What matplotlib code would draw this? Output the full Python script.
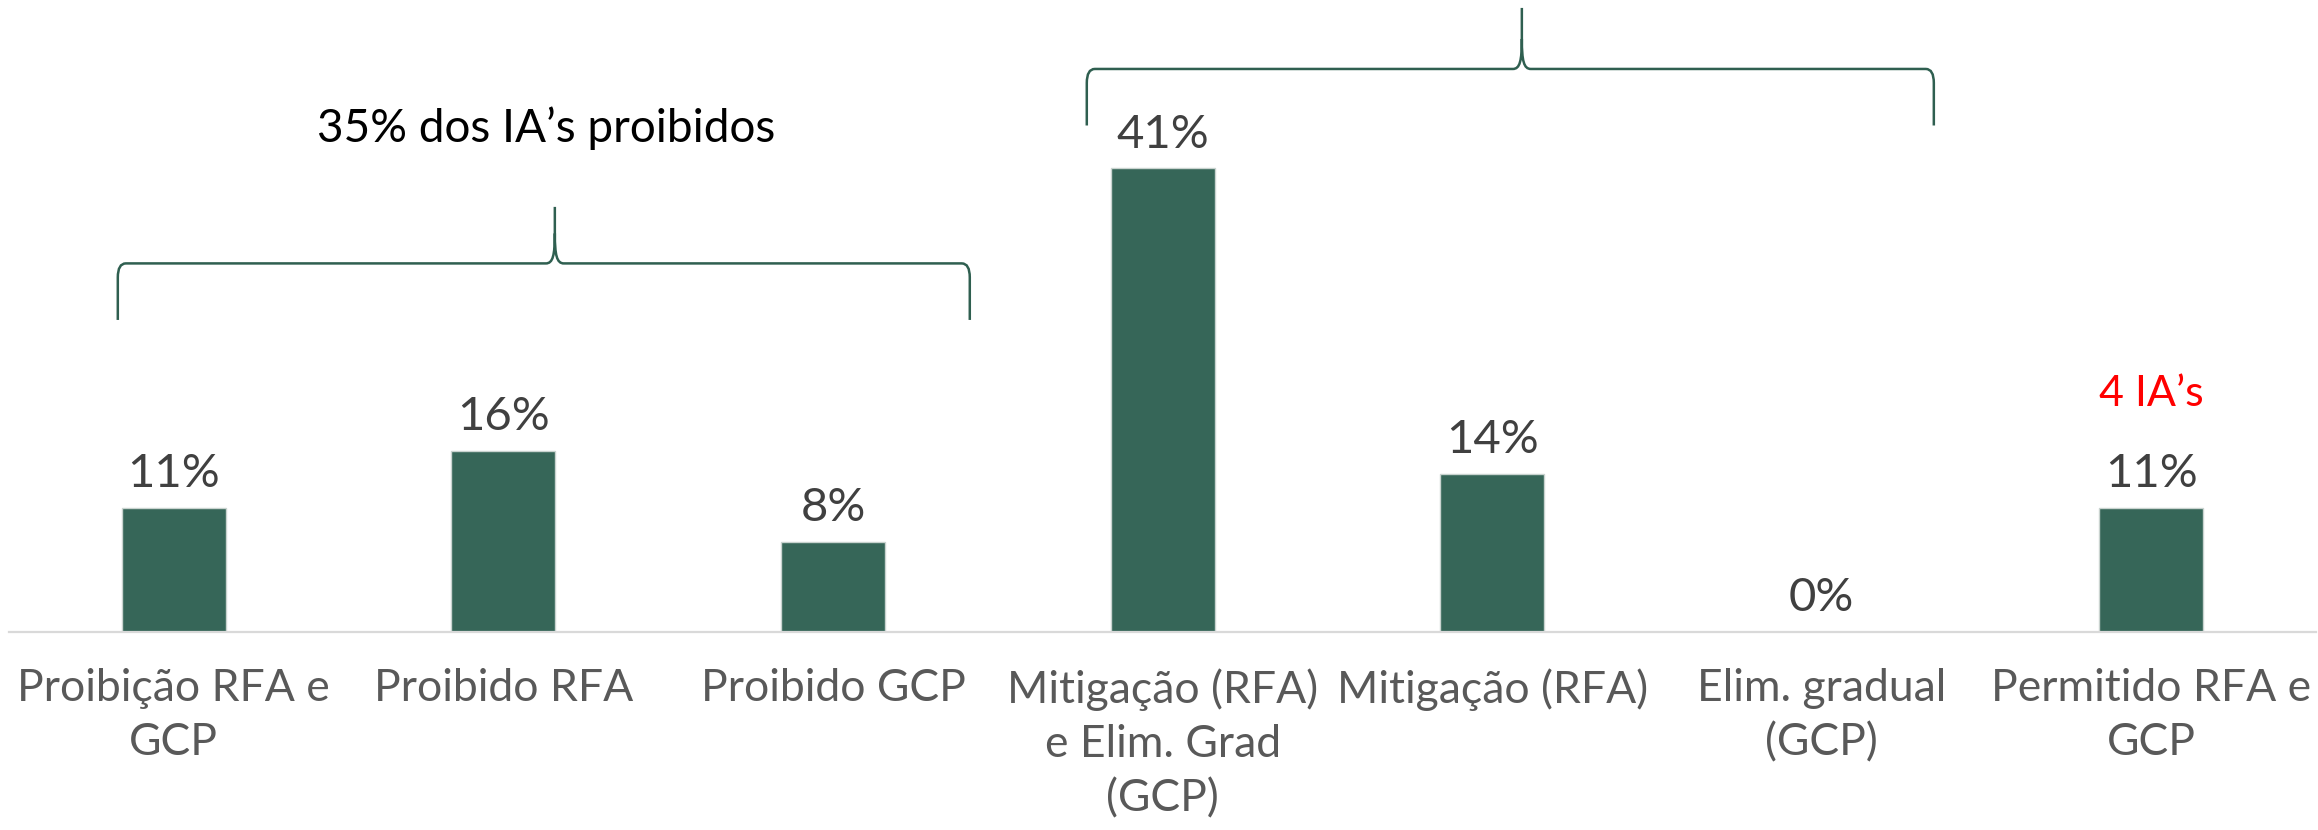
import matplotlib
matplotlib.use("Agg")
import matplotlib.pyplot as plt
from matplotlib.path import Path
from matplotlib.patches import PathPatch

# data
categories = ["Proibição RFA e\nGCP", "Proibido RFA", "Proibido GCP",
              "Mitigação (RFA)\ne Elim. Grad\n(GCP)", "Mitigação (RFA)",
              "Elim. gradual\n(GCP)", "Permitido RFA e\nGCP"]
values = [11, 16, 8, 41, 14, 0, 11]
value_labels = ["11%", "16%", "8%", "41%", "14%", "0%", "11%"]
group_note = "35% dos IA’s proibidos"
extra_note = "4 IA’s"

bar_color = "#366658"
font = ["Lato", "DejaVu Sans"]

fig = plt.figure(figsize=(23.18, 8.3), dpi=100)
ax = fig.add_axes([0.0039, 0.2386, 0.9953, 0.7614])
x = list(range(len(categories)))
ax.bar(x, values, width=0.316, color=bar_color, edgecolor="#c9d3cf", linewidth=1, zorder=2)
ax.set_xlim(-0.5, 6.5)
ax.set_ylim(0, 55.9)

for s in ["top", "left", "right"]:
    ax.spines[s].set_visible(False)
ax.spines["bottom"].set_color("#d9d9d9")
ax.spines["bottom"].set_linewidth(1.6)
ax.set_yticks([])
ax.set_xticks(x)
ax.set_xticklabels(categories, fontsize=32, color="#595959", family=font, linespacing=1.4)
ax.tick_params(axis="x", length=0, pad=26)

for xi, v, lab in zip(x, values, value_labels):
    ax.annotate(lab, (xi, v), xytext=(0, 15), textcoords="offset points",
                ha="center", va="baseline", fontsize=34, color="#404040", family=font)

ax.annotate(extra_note, (6, values[6]), xytext=(0, 73), textcoords="offset points",
            ha="center", va="baseline", fontsize=31, color="#ff0000", family=font)

# braces (pixel sizes converted to data units)
sx = 1 / 329.5
sy = 1 / 11.3


def draw_brace(x0, x1, xt, yb, yl, yt):
    rx, ry = 8 * sx, 14 * sy
    tx = 9 * sx
    verts = [(x0, yb), (x0, yl - ry), (x0, yl), (x0 + rx, yl),
             (xt - tx, yl),
             (xt - 2 * sx, yl), (xt, yl + 8 * sy), (xt, yl + 30 * sy),
             (xt, yt),
             (xt, yl + 30 * sy),
             (xt, yl + 8 * sy), (xt + 2 * sx, yl), (xt + tx, yl),
             (x1 - rx, yl), (x1, yl), (x1, yl - ry), (x1, yb)]
    codes = [Path.MOVETO, Path.LINETO, Path.CURVE3, Path.CURVE3,
             Path.LINETO,
             Path.CURVE4, Path.CURVE4, Path.CURVE4,
             Path.LINETO,
             Path.MOVETO,
             Path.CURVE4, Path.CURVE4, Path.CURVE4,
             Path.LINETO, Path.CURVE3, Path.CURVE3, Path.LINETO]
    ax.add_patch(PathPatch(Path(verts, codes), fill=False, edgecolor="#2f5f50",
                           linewidth=1.8, clip_on=False, zorder=3))


draw_brace(-0.17, 2.415, 1.156, 27.6, 32.6, 37.6)
draw_brace(2.77, 5.34, 4.09, 44.8, 49.8, 55.2)

ax.text(1.13, 43.3, group_note, ha="center", va="baseline", fontsize=33,
        color="black", family=font)

fig.savefig("out.png", dpi=100)
